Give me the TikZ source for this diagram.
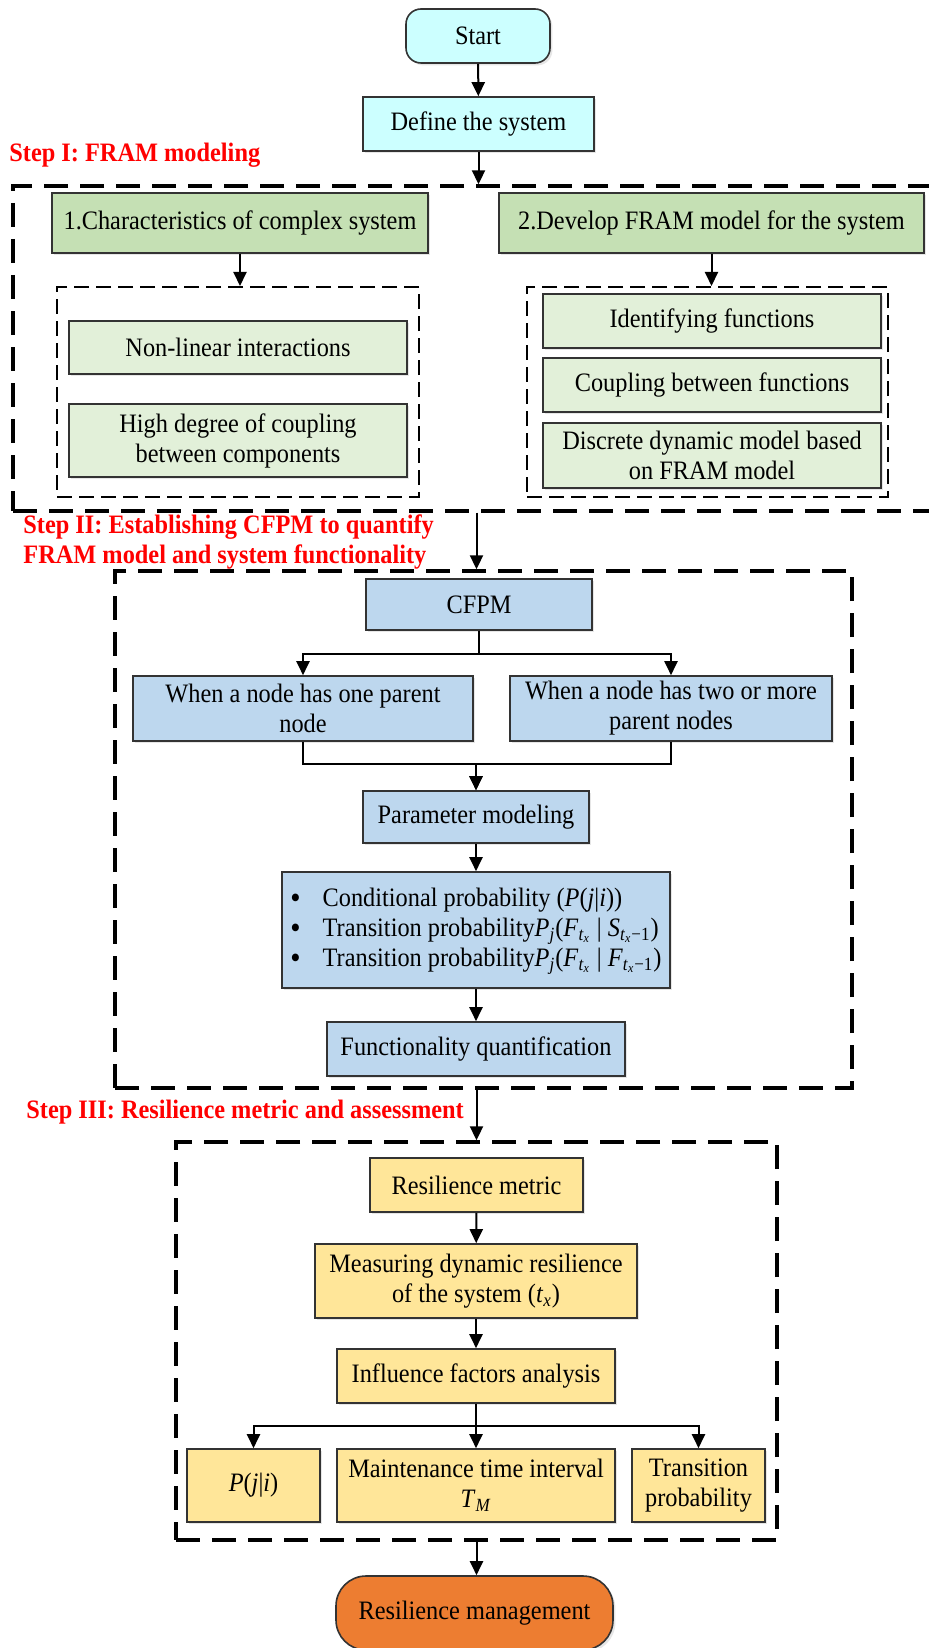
\documentclass[tikz,border=0pt]{standalone}
\usepackage{fontspec}
\setmainfont[FakeStretch=0.915]{Liberation Serif}
\usetikzlibrary{positioning}
\usetikzlibrary{arrows.meta}
\usetikzlibrary{shadows}
\definecolor{cyanfill}{HTML}{CCFFFF}
\definecolor{greendark}{HTML}{C5E0B4}
\definecolor{greenlight}{HTML}{E2F0D9}
\definecolor{bluefill}{HTML}{BDD7EE}
\definecolor{yellowfill}{HTML}{FFE699}
\definecolor{orangefill}{HTML}{ED7D31}
\definecolor{stepred}{HTML}{FF0000}
\newcommand{\bigbullet}{\raisebox{-1pt}{\smash{\fontsize{16}{15}\selectfont\textbullet}}}
\tikzset{
 box/.style={
 rectangle,
 draw=black!80, line width=0.8pt,
 inner sep=2pt,
 align=center,
 font=\fontsize{13.3}{15}\selectfont,
 drop shadow={shadow xshift=1.2pt, shadow yshift=-1.2pt, opacity=0.2, fill=gray}},
 terminal/.style={box, fill=cyanfill, rounded corners=7.5pt},
 cyanbox/.style={box, fill=cyanfill},
 greenbox/.style={box, fill=greendark},
 lightbox/.style={box, fill=greenlight},
 bluebox/.style={box, fill=bluefill},
 yellowbox/.style={box, fill=yellowfill},
 endbox/.style={box, fill=orangefill, rounded corners=15pt},
 frame/.style={
 rectangle,
 draw=black, line width=1.7pt,
 dash pattern=on 12pt off 6pt,
 inner sep=0pt},
 subframe/.style={
 rectangle,
 draw=black, line width=1pt,
 dash pattern=on 7.5pt off 3.5pt,
 inner sep=0pt},
 steplabel/.style={
 anchor=west,
 align=left,
 inner sep=0pt,
 text=stepred,
 font=\fontsize{13.3}{15}\selectfont\bfseries},
 flecha/.style={-{Triangle[length=7pt,width=6.5pt]}, line width=1pt}
}

\begin{document}
\begin{tikzpicture}[x=0.5pt,y=-0.5pt]
 \useasboundingbox (0,0) rectangle (929,1648);
 \clip (0,0) rectangle (929,1648);

 % top
 \node[terminal, minimum width=72pt, minimum height=27pt] (start) at (478,36) {Start};
 \node[cyanbox, minimum width=115.5pt, minimum height=27pt] (define) at (478.5,124) {Define the system};

 % Step I
 \node[steplabel] (stepone) at (9,155) {Step I: FRAM modeling};
 \node[frame, minimum width=463.5pt, minimum height=162.5pt] (fram) at (476.5,348.5) {};
 \node[greenbox, minimum width=188pt, minimum height=30pt] (charac) at (240,223) {1.Characteristics of complex system};
 \node[greenbox, minimum width=212.5pt, minimum height=30pt] (develop) at (711.5,223) {2.Develop FRAM model for the system};

 \node[subframe, minimum width=181pt, minimum height=105pt] (leftframe) at (238,392) {};
 \node[lightbox, minimum width=169pt, minimum height=26.5pt] (nonlin) at (238,347.5) {Non-linear interactions};
 \node[lightbox, minimum width=169pt, minimum height=36.5pt] (coupdeg) at (238,440.5) {High degree of coupling\\between components};

 \node[subframe, minimum width=180.5pt, minimum height=105pt] (rightframe) at (707.5,392) {};
 \node[lightbox, minimum width=169pt, minimum height=27pt] (ident) at (712,321) {Identifying functions};
 \node[lightbox, minimum width=169pt, minimum height=27pt] (coupfun) at (712,385) {Coupling between functions};
 \node[lightbox, minimum width=169pt, minimum height=32.5pt] (discr) at (712,455.5) {Discrete dynamic model based\\on FRAM model};

 % Step II
 \node[steplabel] (steptwo) at (23,542) {Step II: Establishing CFPM to quantify\\FRAM model and system functionality};
 \node[frame, minimum width=368.5pt, minimum height=258.5pt] (cfpmframe) at (483.5,829.5) {};
 \node[bluebox, minimum width=113pt, minimum height=25.5pt] (cfpm) at (479,604.5) {CFPM};
 \node[bluebox, minimum width=170pt, minimum height=32.5pt] (oneparent) at (303,708.5) {When a node has one parent\\node};
 \node[bluebox, minimum width=161pt, minimum height=32.5pt] (moreparent) at (671,708.5) {When a node has two or more\\parent nodes};
 \node[bluebox, minimum width=113pt, minimum height=26pt] (param) at (476,817) {Parameter modeling};
 \node[bluebox, minimum width=194pt, minimum height=58pt] (probs) at (476,930) {%
 \begin{tabular}{@{}l@{\hspace{11pt}}l@{}}
 \bigbullet & Conditional probability (\textit{P}(\textit{j}|\textit{i}))\\
 \bigbullet & Transition probability\textit{P}\textsubscript{\textit{j}}(\textit{F}\textsubscript{\textit{t}\textsubscript{\textit{x}}} | \textit{S}\textsubscript{\textit{t}\textsubscript{\textit{x}}−1})\\
 \bigbullet & Transition probability\textit{P}\textsubscript{\textit{j}}(\textit{F}\textsubscript{\textit{t}\textsubscript{\textit{x}}} | \textit{F}\textsubscript{\textit{t}\textsubscript{\textit{x}}−1})
 \end{tabular}};
 \node[bluebox, minimum width=149pt, minimum height=27pt] (func) at (476,1049) {Functionality quantification};

 % Step III
 \node[steplabel] (stepthree) at (26,1112) {Step III: Resilience metric and assessment};
 \node[frame, minimum width=300.5pt, minimum height=199pt] (resframe) at (476.5,1341) {};
 \node[yellowbox, minimum width=106.5pt, minimum height=27pt] (metric) at (476.5,1185) {Resilience metric};
 \node[yellowbox, minimum width=161pt, minimum height=37pt] (measure) at (476,1281) {Measuring dynamic resilience\\of the system (\textit{t}\textsubscript{\textit{x}})};
 \node[yellowbox, minimum width=139pt, minimum height=27pt] (influ) at (476,1376) {Influence factors analysis};
 \node[yellowbox, minimum width=66.5pt, minimum height=36.5pt] (pji) at (253.5,1485.5) {\textit{P}(\textit{j}|\textit{i})};
 \node[yellowbox, minimum width=139pt, minimum height=36.5pt] (maint) at (476,1485.5) {Maintenance time interval\\\textit{T}\textsubscript{\textit{M}}};
 \node[yellowbox, minimum width=66.5pt, minimum height=36.5pt] (trans) at (698.5,1485.5) {Transition\\probability};

 \node[endbox, minimum width=138.5pt, minimum height=37pt] (manage) at (474.5,1613) {Resilience management};

 % connectors
 \draw[flecha] (start) -- (define);
 \draw[flecha] (define) -- (define |- fram.north);
 \draw[flecha] (charac) -- (charac |- leftframe.north);
 \draw[flecha] (develop) -- (develop |- rightframe.north);
 \draw[flecha] (fram.south) -- (fram.south |- cfpmframe.north);
 \draw[flecha] (cfpm.south) -- ++(0,23) -| (oneparent.north);
 \draw[flecha] (cfpm.south) -- ++(0,23) -| (moreparent.north);
 \draw[flecha] (oneparent.south) -- ++(0,22) -| (param.north);
 \draw[flecha] (moreparent.south) -- ++(0,22) -| (param.north);
 \draw[flecha] (param) -- (probs);
 \draw[flecha] (probs) -- (func);
 \draw[flecha] (resframe.north |- cfpmframe.south) -- (resframe.north);
 \draw[flecha] (metric) -- (measure);
 \draw[flecha] (measure) -- (influ);
 \draw[flecha] (influ.south) -- ++(0,22) -| (pji.north);
 \draw[flecha] (influ) -- (maint);
 \draw[flecha] (influ.south) -- ++(0,22) -| (trans.north);
 \draw[flecha] (resframe.south) -- (resframe.south |- manage.north);
\end{tikzpicture}
\end{document}
